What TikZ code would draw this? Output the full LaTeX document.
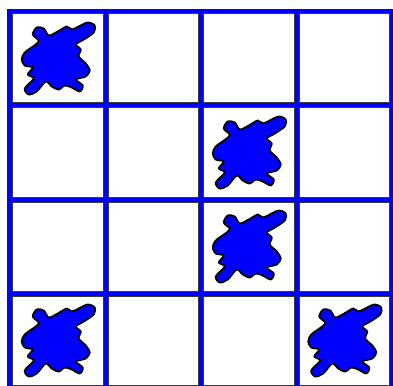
\documentclass[tikz,border=0pt]{standalone}
\usepackage{tikz}

\begin{document}
\begin{tikzpicture}[x=1pt, y=-1pt, line join=round,
        cell/.style={fill=white, draw=gray!45!black, line width=1pt},
        scribble/.style={fill=blue, draw=black, line width=1.8pt}]
        % Frame and clipping
        \useasboundingbox (0,0) rectangle (393,385);
        \clip (0,0) rectangle (393,385);
        \fill[blue] (7,9) rectangle (400,400);
        
        % White cells with thin grey border
        \foreach \i in {0,...,3}
            \foreach \j in {0,...,3}
                \draw[cell] (12.5+95.5*\i,14+94*\j) rectangle ++(90.5,89);
        
        % Scribbled cells (column/row)
        \foreach \i/\j in {0/0, 2/1, 2/2, 0/3, 3/3}
            \filldraw[scribble, shift={(57.75+95.5*\i,58.5+94*\j)}]
                plot[smooth cycle, tension=0.5] coordinates {
                (-21,-31) (-14,-30) (-9,-23) (0,-27) (9,-32)
                (14,-29) (21,-32) (30,-36) (37,-33) (36,-26)
                (26,-19) (18,-14) (23,-9) (21,-2) (28,5)
                (32,12) (28,18) (18,21) (25,27) (22,33)
                (14,29) (7,27) (1,31) (-6,28) (-12,23)
                (-21,33) (-29,36) (-33,30) (-24,20) (-30,16)
                (-25,9) (-33,7) (-36,1) (-33,-6) (-22,-14)
                (-19,-18) (-25,-24)};
\end{tikzpicture}
\end{document}
